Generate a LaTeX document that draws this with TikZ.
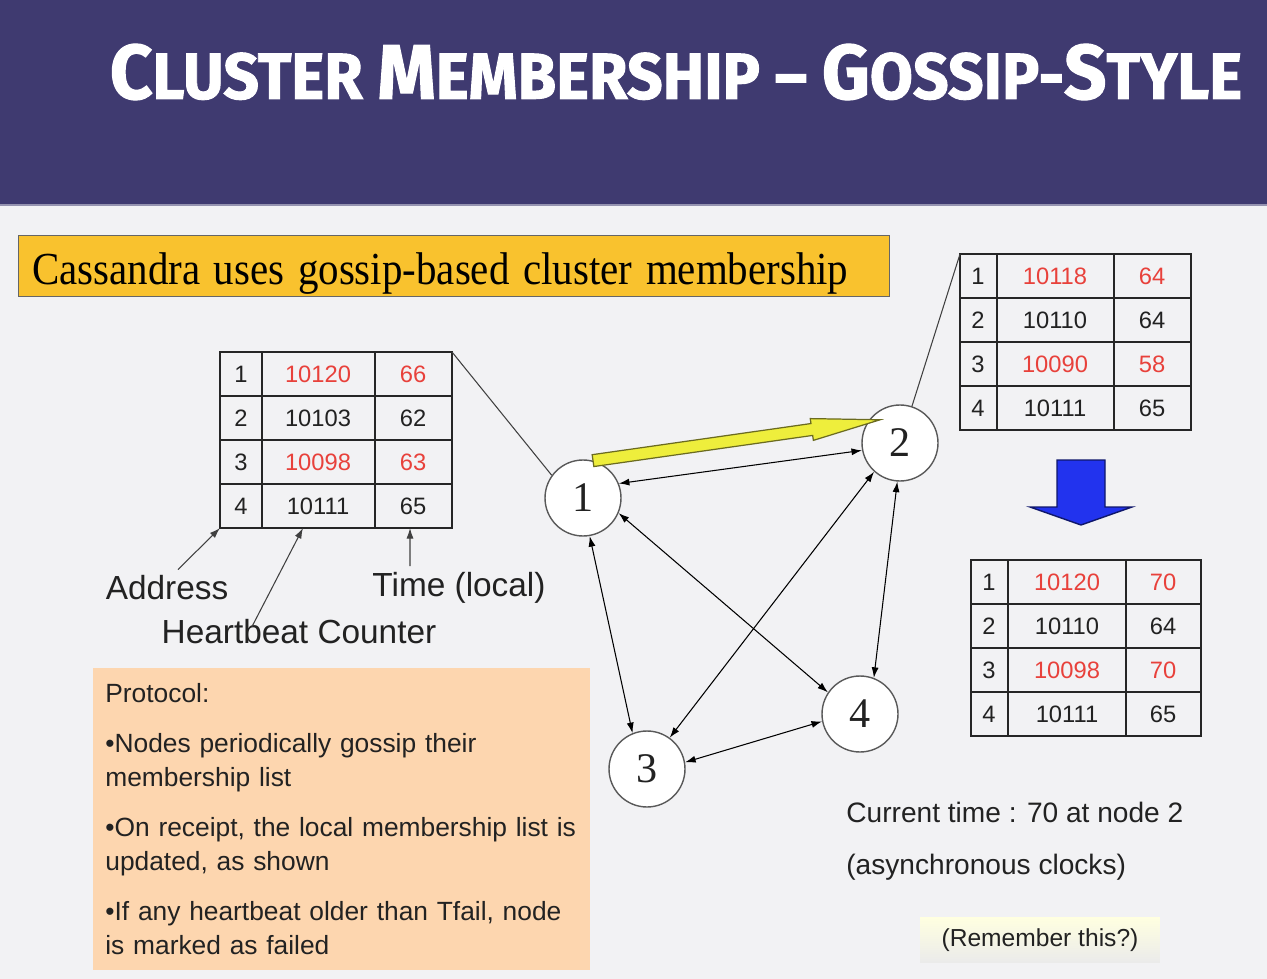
\documentclass[tikz,border=0pt]{standalone}
\usepackage{fontspec}
\setmainfont{Liberation Sans}
\newfontfamily\timesfont{Liberation Serif}
\newfontfamily\titlefont[BoldFeatures={FakeBold=1.5}]{Fira Sans}
\usetikzlibrary{arrows.meta, positioning, calc}
\definecolor{hdr}{HTML}{3F3A70}
\definecolor{pagebg}{HTML}{F2F2F4}
\definecolor{banner}{HTML}{F9C22E}
\definecolor{protobg}{HTML}{FDD6AF}
\definecolor{upd}{HTML}{E8413B}
\definecolor{txt}{HTML}{222222}
\definecolor{gossip}{HTML}{EEEE3C}
\definecolor{gossipline}{HTML}{6B6B20}
\definecolor{merge}{HTML}{2233EE}
\newcommand\titlecap[1]{{\fontsize{44}{44}\selectfont #1}}

\begin{document}
\begin{tikzpicture}[x=0.02cm, y=-0.02cm,
    every node/.style={font=\fontsize{15}{18}\selectfont, text=txt},
    cell/.style={font=\fontsize{13.5}{16}\selectfont, inner sep=0pt},
    grid/.style={line width=1.1pt, black!85},
    peer/.style={circle, draw=black!65, line width=0.8pt, fill=white,
                 minimum size=1.52cm, inner sep=0pt,
                 font=\timesfont\fontsize{24}{24}\selectfont},
    link/.style={{Latex[length=6pt,width=4pt]}-{Latex[length=6pt,width=4pt]}, line width=0.6pt},
    pointer/.style={-{Latex[length=6pt,width=4pt]}, line width=0.6pt, black!75},
    tether/.style={line width=0.6pt, black!75},
    lbl/.style={font=\fontsize{19}{22}\selectfont},
    note/.style={font=\fontsize{16}{19}\selectfont, anchor=west, inner sep=0pt},
]
\useasboundingbox (0,0) rectangle (1267,979);

% ================================================ page and header
\fill[pagebg] (0,0) rectangle (1267,979);
\fill[hdr] (0,0) rectangle (1267,205);
\draw[hdr!55!white, line width=1pt] (0,205) -- (1267,205);
\node[text=white, font=\titlefont\bfseries\fontsize{37}{37}\selectfont,
      transform shape, xscale=0.96] (title) at (676,72)
    {\titlecap{C}LUSTER \titlecap{M}EMBERSHIP – \titlecap{G}OSSIP-\titlecap{S}TYLE};

\node[draw=black!60, line width=0.5pt, fill=banner, minimum width=17.44cm,
      minimum height=1.22cm, inner xsep=0.28cm, inner ysep=0pt, text width=16.88cm,
      text height=0.9cm, text depth=0.14cm, align=left,
      font=\timesfont\fontsize{23.3}{26}\selectfont, text=black] (banner) at (454,265.5)
    {\scalebox{1}[1.12]{Cassandra uses gossip-based cluster membership}};

% ================================================ membership list at node 1
\draw[grid] (220,352) rectangle (452,528);
\foreach \y in {396,440,484} \draw[grid] (220,\y) -- (452,\y);
\foreach \x in {262,375} \draw[grid] (\x,352) -- (\x,528);
\foreach \r/\hb/\tm/\c in {1/10120/66/upd, 2/10103/62/txt, 3/10098/63/upd, 4/10111/65/txt}{
    \node[cell] (la\r) at (241,{330+44*\r}) {\r};
    \node[cell, text=\c] (lb\r) at (318,{330+44*\r}) {\hb};
    \node[cell, text=\c] (lc\r) at (413,{330+44*\r}) {\tm};
}
\coordinate (ltab-ne) at (452,352);
\coordinate (ltab-sw) at (220,528);
\coordinate (ltab-hb) at (303,528);
\coordinate (ltab-tm) at (410,528);

% what the columns hold
\node[lbl] (addr) at (167,588) {Address};
\node[lbl] (tm) at (459,588) {Time (local)};
\node[lbl] (hb) at (299,632) {Heartbeat Counter};
\draw[pointer] ([xshift=0.22cm]addr.north) -- (ltab-sw);
\draw[pointer] ([xshift=-0.94cm, yshift=-0.26cm]hb.north) -- (ltab-hb);
\draw[pointer] ([xshift=-0.98cm]tm.north) -- (ltab-tm);

% ================================================ membership list received at node 2
\draw[grid] (960,254) rectangle (1191,430);
\foreach \y in {298,342,386} \draw[grid] (960,\y) -- (1191,\y);
\foreach \x in {997,1114} \draw[grid] (\x,254) -- (\x,430);
\foreach \r/\hb/\tm/\c in {1/10118/64/upd, 2/10110/64/txt, 3/10090/58/upd, 4/10111/65/txt}{
    \node[cell] (ra\r) at (978,{232+44*\r}) {\r};
    \node[cell, text=\c] (rb\r) at (1055,{232+44*\r}) {\hb};
    \node[cell, text=\c] (rc\r) at (1152,{232+44*\r}) {\tm};
}
\coordinate (rtab-nw) at (960,254);

% merged
\draw[merge!45!black, line width=0.8pt, fill=merge]
    (1057,460) -- (1105,460) -- (1105,507) -- (1132,507) -- (1081,525)
    -- (1030,507) -- (1057,507) -- cycle;

\draw[grid] (971,560) rectangle (1201,736);
\foreach \y in {604,648,692} \draw[grid] (971,\y) -- (1201,\y);
\foreach \x in {1008,1126} \draw[grid] (\x,560) -- (\x,736);
\foreach \r/\hb/\tm/\c in {1/10120/70/upd, 2/10110/64/txt, 3/10098/70/upd, 4/10111/65/txt}{
    \node[cell] (ma\r) at (989,{538+44*\r}) {\r};
    \node[cell, text=\c] (mb\r) at (1067,{538+44*\r}) {\hb};
    \node[cell, text=\c] (mc\r) at (1163,{538+44*\r}) {\tm};
}

% ================================================ the peers
\node[peer] (n1) at (583,498) {1};
\node[peer] (n2) at (900,443) {2};
\node[peer] (n3) at (647,769) {3};
\node[peer] (n4) at (860,714) {4};

\draw[link] (n1.22) -- (n2.191);
\draw[link] (n1.280) -- (n3.112);
\draw[link] (n1.-23) -- (n4.146);
\draw[link] (n2.228) -- (n3.54);
\draw[link] (n2.266) -- (n4.69);
\draw[link] (n3.10) -- (n4.191);

\draw[tether] (ltab-ne) -- (n1.144);
\draw[tether] (n2.72) -- (rtab-nw);

% the gossip message 1 -> 2
\begin{scope}[shift={(n1.75)}, rotate=8.1]
    \draw[gossipline, line width=0.7pt, fill=gossip]
        (0,-6) -- (221,-6) -- (221,-11) -- (290,0) -- (221,11) -- (221,6) -- (0,6) -- cycle;
\end{scope}

% ================================================ protocol
\node[fill=protobg, anchor=north west, minimum width=9.94cm, minimum height=6.04cm,
      inner xsep=0.24cm, text width=9.46cm, align=left,
      font=\fontsize{15}{19.4}\selectfont] (proto) at (93,668)
    {Protocol:\\[9pt]
     •Nodes periodically gossip their\\
     membership list\\[9pt]
     •On receipt, the local membership list is\\
     updated, as shown\\[9pt]
     •If any heartbeat older than Tfail, node\\
     is marked as failed};

% ================================================ notes
\node[note] (now) at (846,812) {Current time : 70 at node 2};
\node[note] (async) at (846,867) {(asynchronous clocks)};
\node[top color=yellow!12, bottom color=black!8, minimum width=4.8cm,
      minimum height=0.9cm, font=\fontsize{14}{17}\selectfont] (recall) at (1040,940)
    {(Remember this?)};

\end{tikzpicture}
\end{document}
